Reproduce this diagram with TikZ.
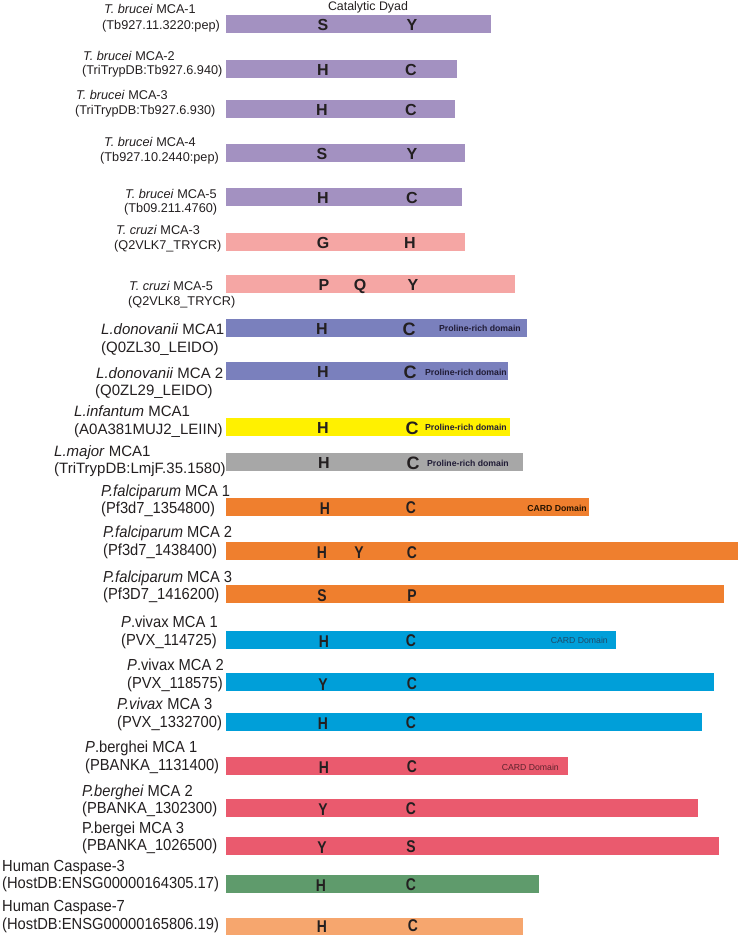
\documentclass[tikz,border=0pt]{standalone}
\usepackage{fontspec}
\setmainfont{Liberation Sans}
\newfontfamily\plfont[FakeStretch=0.92]{Liberation Sans}
\newfontfamily\resnarrow[FakeStretch=0.82]{Liberation Sans}
\definecolor{txt}{HTML}{231F20}
\definecolor{cPur}{HTML}{A391C1}
\definecolor{cPink}{HTML}{F5A6A4}
\definecolor{cLdo}{HTML}{7A80BD}
\definecolor{cYel}{HTML}{FFF100}
\definecolor{cGry}{HTML}{A7A7A7}
\definecolor{cOra}{HTML}{EF7F2E}
\definecolor{cBlu}{HTML}{009FD9}
\definecolor{cRed}{HTML}{EA5A6E}
\definecolor{cGrn}{HTML}{5F9B6C}
\definecolor{cLor}{HTML}{F6A66E}
\begin{document}
\begin{tikzpicture}[x=1pt,y=-1pt,
  bar/.style={anchor=north west,minimum height=17.5pt,inner sep=0pt,outer sep=0pt,draw=none},
  tb/.style={font=\fontsize{12.7}{15}\selectfont,text=txt,inner sep=0pt,anchor=base west},
  lm/.style={font=\fontsize{15}{18}\selectfont,text=txt,inner sep=0pt,anchor=base west},
  pl/.style={font=\plfont\fontsize{16}{19}\selectfont,text=txt,inner sep=0pt,anchor=base west},
  rb/.style={font=\bfseries\fontsize{16}{18}\selectfont,text=txt,inner sep=0pt,anchor=base},
  rc/.style={font=\bfseries\fontsize{18}{20}\selectfont,text=txt,inner sep=0pt,anchor=base},
  rp/.style={font=\resnarrow\bfseries\fontsize{17}{19}\selectfont,text=txt,inner sep=0pt,anchor=base},
  dom/.style={font=\bfseries\fontsize{8.7}{10}\selectfont,text=txt!90!blue,inner sep=0pt,anchor=base east},
  card/.style={font=\fontsize{8.7}{10}\selectfont,inner sep=0pt,anchor=base east}]
\useasboundingbox (0,0) rectangle (738,935);
% bars
\node[bar,fill=cPur,minimum width=265pt] (b1) at (226,15) {};
\node[bar,fill=cPur,minimum width=231pt] (b2) at (226,60) {};
\node[bar,fill=cPur,minimum width=229pt] (b3) at (226,100) {};
\node[bar,fill=cPur,minimum width=239pt] (b4) at (226,144) {};
\node[bar,fill=cPur,minimum width=236pt] (b5) at (226,188) {};
\node[bar,fill=cPink,minimum width=239pt] (b6) at (226,233) {};
\node[bar,fill=cPink,minimum width=289pt] (b7) at (226,275) {};
\node[bar,fill=cLdo,minimum width=301pt] (b8) at (226,319) {};
\node[bar,fill=cLdo,minimum width=282pt] (b9) at (226,362) {};
\node[bar,fill=cYel,minimum width=284pt] (b10) at (226,418) {};
\node[bar,fill=cGry,minimum width=297pt] (b11) at (226,453) {};
\node[bar,fill=cOra,minimum width=363pt] (b12) at (226,498) {};
\node[bar,fill=cOra,minimum width=512pt] (b13) at (226,542) {};
\node[bar,fill=cOra,minimum width=498pt] (b14) at (226,585) {};
\node[bar,fill=cBlu,minimum width=390pt] (b15) at (226,631) {};
\node[bar,fill=cBlu,minimum width=488pt] (b16) at (226,673) {};
\node[bar,fill=cBlu,minimum width=476pt] (b17) at (226,713) {};
\node[bar,fill=cRed,minimum width=342pt] (b18) at (226,757) {};
\node[bar,fill=cRed,minimum width=472pt] (b19) at (226,799) {};
\node[bar,fill=cRed,minimum width=493pt] (b20) at (226,837) {};
\node[bar,fill=cGrn,minimum width=313pt] (b21) at (226,875) {};
\node[bar,fill=cLor,minimum width=297pt] (b22) at (226,918) {};
% heading
\node[font=\fontsize{12.4}{14}\selectfont,text=txt,inner sep=0pt,anchor=base] (head) at (368,10) {Catalytic Dyad};
% labels
\node[tb] (l1a) at (104,13) {\textit{T. brucei} MCA-1};
\node[tb] (l1b) at (102,29) {(Tb927.11.3220:pep)};
\node[tb] (l2a) at (83,60) {\textit{T. brucei} MCA-2};
\node[tb] (l2b) at (82,74) {(TriTrypDB:Tb927.6.940)};
\node[tb] (l3a) at (76,99) {\textit{T. brucei} MCA-3};
\node[tb] (l3b) at (75,114) {(TriTrypDB:Tb927.6.930)};
\node[tb] (l4a) at (104,146) {\textit{T. brucei} MCA-4};
\node[tb] (l4b) at (100,161) {(Tb927.10.2440:pep)};
\node[tb] (l5a) at (125,198) {\textit{T. brucei} MCA-5};
\node[tb] (l5b) at (124,212) {(Tb09.211.4760)};
\node[tb] (l6a) at (116,234) {\textit{T. cruzi} MCA-3};
\node[tb] (l6b) at (114,249) {(Q2VLK7\_TRYCR)};
\node[tb] (l7a) at (129,290) {\textit{T. cruzi} MCA-5};
\node[tb] (l7b) at (128,305) {(Q2VLK8\_TRYCR)};
\node[lm] (l8a) at (101,334) {\textit{L.donovanii} MCA1};
\node[lm] (l8b) at (101,352) {(Q0ZL30\_LEIDO)};
\node[lm] (l9a) at (96,378) {\textit{L.donovanii} MCA 2};
\node[lm] (l9b) at (95,395) {(Q0ZL29\_LEIDO)};
\node[lm] (l10a) at (74,416) {\textit{L.infantum} MCA1};
\node[lm] (l10b) at (74,434) {(A0A381MUJ2\_LEIIN)};
\node[lm] (l11a) at (54,456) {\textit{L.major} MCA1};
\node[lm] (l11b) at (54,473) {(TriTrypDB:LmjF.35.1580)};
\node[pl] (l12a) at (101,496) {\textit{P.falciparum} MCA 1};
\node[pl] (l12b) at (101,513) {(Pf3d7\_1354800)};
\node[pl] (l13a) at (103,537) {\textit{P.falciparum} MCA 2};
\node[pl] (l13b) at (103,555) {(Pf3d7\_1438400)};
\node[pl] (l14a) at (103,582) {\textit{P.falciparum} MCA 3};
\node[pl] (l14b) at (103,599) {(Pf3D7\_1416200)};
\node[pl] (l15a) at (121,627) {\textit{P}.vivax MCA 1};
\node[pl] (l15b) at (121,645) {(PVX\_114725)};
\node[pl] (l16a) at (127,670) {\textit{P}.vivax MCA 2};
\node[pl] (l16b) at (127,688) {(PVX\_118575)};
\node[pl] (l17a) at (117,709) {\textit{P.vivax} MCA 3};
\node[pl] (l17b) at (117,727) {(PVX\_1332700)};
\node[pl] (l18a) at (85,752) {\textit{P}.berghei MCA 1};
\node[pl] (l18b) at (85,770) {(PBANKA\_1131400)};
\node[pl] (l19a) at (82,796) {\textit{P.berghei} MCA 2};
\node[pl] (l19b) at (82,813) {(PBANKA\_1302300)};
\node[pl] (l20a) at (82,833) {P.bergei MCA 3};
\node[pl] (l20b) at (82,850) {(PBANKA\_1026500)};
\node[pl] (l21a) at (2,871) {Human Caspase-3};
\node[pl] (l21b) at (2,888) {(HostDB:ENSG00000164305.17)};
\node[pl] (l22a) at (2,911) {Human Caspase-7};
\node[pl] (l22b) at (2,929) {(HostDB:ENSG00000165806.19)};
% residues
\node[rb] (r1a) at (323,30) {S};  \node[rb] (r1b) at (412,30) {Y};
\node[rb] (r2a) at (323,75) {H};  \node[rb] (r2b) at (411,75) {C};
\node[rb] (r3a) at (322,115) {H}; \node[rb] (r3b) at (411,115) {C};
\node[rb] (r4a) at (322,159) {S}; \node[rb] (r4b) at (412,159) {Y};
\node[rb] (r5a) at (323,203) {H}; \node[rb] (r5b) at (412,203) {C};
\node[rb] (r6a) at (323,248) {G}; \node[rb] (r6b) at (410,248) {H};
\node[rb] (r7a) at (324,290) {P}; \node[rb] (r7m) at (360,290) {Q}; \node[rb] (r7b) at (413,290) {Y};
\node[rb] (r8a) at (322,334) {H}; \node[rc] (r8b) at (409,335) {C};
\node[rb] (r9a) at (323,377) {H}; \node[rc] (r9b) at (410,378) {C};
\node[rb] (r10a) at (323,433) {H}; \node[rc] (r10b) at (412,434) {C};
\node[rb] (r11a) at (324,468) {H}; \node[rc] (r11b) at (413,469) {C};
\node[rp] (r12a) at (325,514) {H}; \node[rp] (r12b) at (411,513) {C};
\node[rp] (r13a) at (322,558) {H}; \node[rp] (r13m) at (359,558) {Y}; \node[rp] (r13b) at (412,558) {C};
\node[rp] (r14a) at (322,601) {S}; \node[rp] (r14b) at (412,601) {P};
\node[rp] (r15a) at (324,647) {H}; \node[rp] (r15b) at (411,646) {C};
\node[rp] (r16a) at (323,690) {Y}; \node[rp] (r16b) at (412,689) {C};
\node[rp] (r17a) at (323,729) {H}; \node[rp] (r17b) at (411,728) {C};
\node[rp] (r18a) at (324,773) {H}; \node[rp] (r18b) at (412,772) {C};
\node[rp] (r19a) at (323,815) {Y}; \node[rp] (r19b) at (411,814) {C};
\node[rp] (r20a) at (322,853) {Y}; \node[rp] (r20b) at (411,852) {S};
\node[rp] (r21a) at (321,891) {H}; \node[rp] (r21b) at (411,890) {C};
\node[rp] (r22a) at (322,932) {H}; \node[rp] (r22b) at (413,931) {C};
% domains
\node[dom] (d8) at (521,331) {Proline-rich domain};
\node[dom] (d9) at (507,375) {Proline-rich domain};
\node[dom] (d10) at (507,430) {Proline-rich domain};
\node[dom] (d11) at (509,466) {Proline-rich domain};
\node[card,font=\bfseries\fontsize{8.7}{10}\selectfont,text=black!85!orange] (c12) at (587,511) {CARD Domain};
\node[card,text={rgb,255:red,30;green,75;blue,105}] (c15) at (608,643) {CARD Domain};
\node[card,text={rgb,255:red,95;green,35;blue,45}] (c18) at (559,770) {CARD Domain};
\end{tikzpicture}
\end{document}
